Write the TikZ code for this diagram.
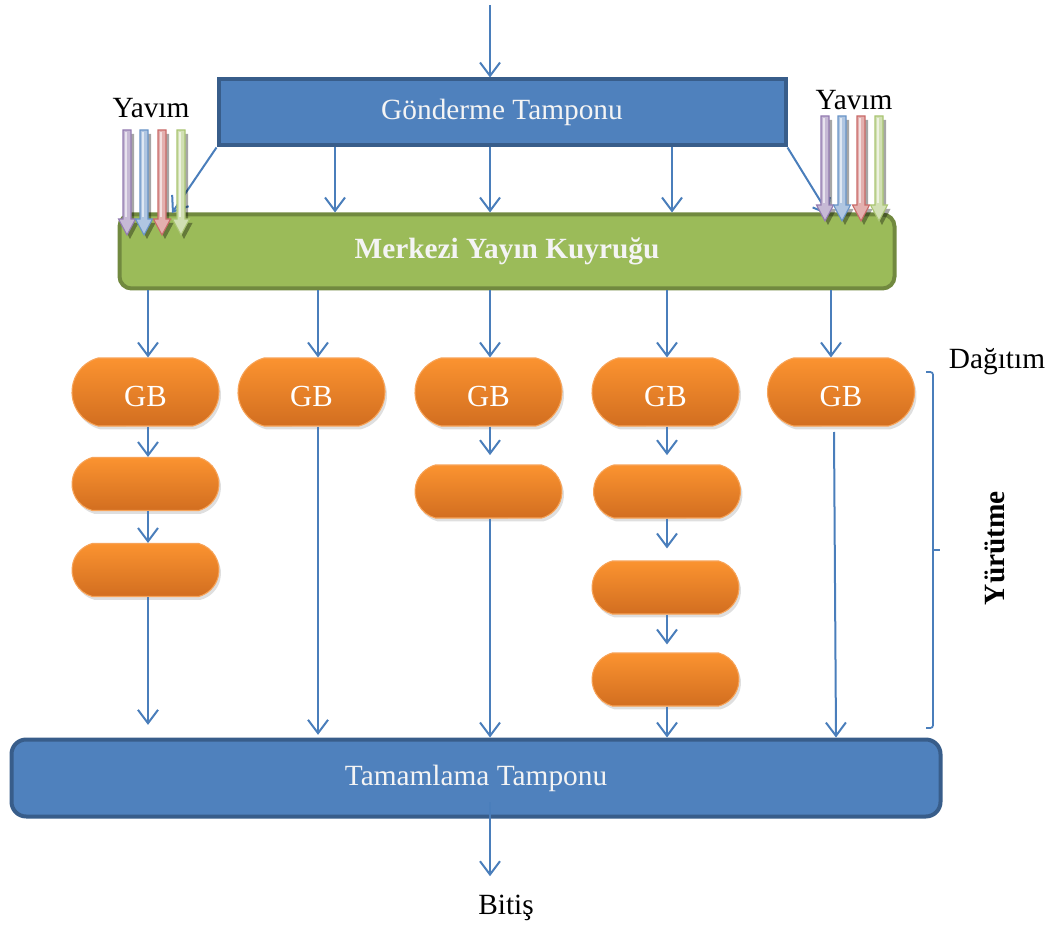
\documentclass[tikz,border=0pt]{standalone}
\usepackage{fontspec}
\setmainfont{Liberation Serif}
\usetikzlibrary{arrows.meta,shadows,calc,shapes.misc}
\definecolor{bfill}{HTML}{4F81BD}
\definecolor{bline}{HTML}{385D8A}
\definecolor{abl}{HTML}{4A7EBB}
\definecolor{gfill}{HTML}{9BBB59}
\definecolor{gline}{HTML}{71893F}
\definecolor{otop}{HTML}{FB9330}
\definecolor{obot}{HTML}{D26E20}
\definecolor{oline}{HTML}{F7A358}
\definecolor{ypur}{HTML}{8064A2}
\definecolor{yblu}{HTML}{4F81BD}
\definecolor{yred}{HTML}{C0504D}
\definecolor{ygrn}{HTML}{9BBB59}
\definecolor{txtw}{HTML}{F4F4F4}
% color, x, ytop, ybottom(tip)
\newcommand\yavarrow[4]{%
  \fill[black,opacity=.35] (#2-4+3,#3+4) -- (#2+4+3,#3+4) -- (#2+4+3,#4-16+4) -- (#2+8.5+3,#4-16+4) -- (#2+3,#4+4) -- (#2-8.5+3,#4-16+4) -- (#2-4+3,#4-16+4) -- cycle;
  \filldraw[fill=#1!45, draw=#1!85, line width=.8pt] (#2-4,#3) -- (#2+4,#3) -- (#2+4,#4-16) -- (#2+8.5,#4-16) -- (#2,#4) -- (#2-8.5,#4-16) -- (#2-4,#4-16) -- cycle;
  \draw[white,opacity=.6,line width=1.2pt] (#2-0.8,#3+2) -- (#2-0.8,#4-18);
}
\newcommand\gbtext{\raisebox{-3.5pt}[\height][\depth]{GB}}
\tikzset{
  txt/.style={font=\fontsize{22pt}{24pt}\selectfont, inner sep=0pt},
  bbox/.style={txt, text=txtw, fill=bfill, draw=bline, line width=3pt},
  gbox/.style={fill=gfill, draw=gline, line width=3pt, rounded corners=9pt,
    font=\fontsize{22pt}{24pt}\selectfont\bfseries, text=txtw, inner sep=0pt},
  pill/.style={txt, text=white, rounded rectangle, rounded rectangle arc length=150,
    top color=otop, bottom color=obot, draw=oline, line width=.8pt,
    minimum width=147*0.75pt,
    drop shadow={shadow xshift=1.5pt, shadow yshift=-2.5pt, opacity=.25}},
  gbnode/.style={pill, minimum height=68*0.75pt, font=\fontsize{23pt}{25pt}\selectfont},
  obnode/.style={pill, minimum height=53*0.75pt},
  arr/.style={draw=abl, line width=1.5pt, -{Straight Barb[length=10pt,width=15pt]}},
}
\begin{document}
\begin{tikzpicture}[x=0.75pt,y=-0.75pt]
\useasboundingbox (0,0) rectangle (1060,927);

% main boxes
\node[bbox, minimum width=567*0.75pt, minimum height=66*0.75pt] (gon) at (502,112.5) {Gönderme Tamponu};
\node[gbox, minimum width=775*0.75pt, minimum height=74*0.75pt] (mer) at (507,251.5) {Merkezi Yayın Kuyruğu};
\node[bbox, rounded corners=11pt, minimum width=929*0.75pt, minimum height=77*0.75pt] (tam) at (476,778) {Tamamlama Tamponu};

% GB row
\node[gbnode] (g1) at (145.5,392) {\gbtext};
\node[gbnode] (g2) at (311.5,392) {\gbtext};
\node[gbnode] (g3) at (488.5,392) {\gbtext};
\node[gbnode] (g4) at (665.5,392) {\gbtext};
\node[gbnode] (g5) at (841,392) {\gbtext};

% further steps
\node[obnode] (b12) at (145.5,484) {};
\node[obnode] (b13) at (145.5,570) {};
\node[obnode] (b32) at (488.5,491.5) {};
\node[obnode] (b42) at (667,491.5) {};
\node[obnode] (b43) at (665.5,587.5) {};
\node[obnode] (b44) at (665.5,679.5) {};

% labels
\node[txt] (yl) at (151,108) {Yavım};
\node[txt] (yr) at (854,100) {Yavım};
\node[txt] (dag) at (997,362) {Dağıtım};
\node[txt, font=\fontsize{22pt}{24pt}\selectfont\bfseries, rotate=90] (yur) at (995,548) {Yürütme};
\node[txt] (bit) at (506,908) {Bitiş};

% input arrow
\coordinate (in) at (490,5);
\draw[arr] (in) -- (in |- gon.north);

% Gonderme -> Merkezi
\coordinate (c1) at (335,0);
\coordinate (c2) at (490,0);
\coordinate (c3) at (672,0);
\foreach \c in {c1,c2,c3} \draw[arr] (\c |- gon.south) -- (\c |- mer.north);
\coordinate (dl) at (172,213);
\coordinate (dr) at (829,215);
\draw[arr] (gon.south west) -- (dl);
\draw[arr] (gon.south east) -- (dr);

% Yavim arrows
\yavarrow{ypur}{127}{130}{235}
\yavarrow{yblu}{144}{130}{235}
\yavarrow{yred}{162}{130}{235}
\yavarrow{ygrn}{181}{130}{235}
\yavarrow{ypur}{825}{116}{221}
\yavarrow{yblu}{842}{116}{221}
\yavarrow{yred}{861}{116}{221}
\yavarrow{ygrn}{879}{116}{221}

% Merkezi -> GB
\coordinate (d1) at (148,0);
\coordinate (d2) at (318,0);
\coordinate (d3) at (490,0);
\coordinate (d4) at (667,0);
\coordinate (d5) at (831,0);
\draw[arr] (d1 |- mer.south) -- (d1 |- g1.north);
\draw[arr] (d2 |- mer.south) -- (d2 |- g2.north);
\draw[arr] (d3 |- mer.south) -- (d3 |- g3.north);
\draw[arr] (d4 |- mer.south) -- (d4 |- g4.north);
\draw[arr] (d5 |- mer.south) -- (d5 |- g5.north);

% column 1
\draw[arr] (d1 |- g1.south) -- (d1 |- b12.north);
\draw[arr] (d1 |- b12.south) -- (d1 |- b13.north);
\draw[arr, shorten >=9.5pt] (d1 |- b13.south) -- (d1 |- tam.north);
% column 2
\draw[arr, shorten >=2pt] (d2 |- g2.south) -- (d2 |- tam.north);
% column 3
\draw[arr, shorten >=7pt] (d3 |- g3.south) -- (d3 |- b32.north);
\draw[arr] (d3 |- b32.south) -- (d3 |- tam.north);
% column 4
\draw[arr, shorten >=7pt] (d4 |- g4.south) -- (d4 |- b42.north);
\draw[arr, shorten >=9pt] (d4 |- b42.south) -- (d4 |- b43.north);
\draw[arr, shorten >=6pt] (d4 |- b43.south) -- (d4 |- b44.north);
\draw[arr] (d4 |- b44.south) -- (d4 |- tam.north);
% column 5
\coordinate (e5) at (834,432);
\coordinate (f5) at (836,0);
\draw[arr] (e5) -- (f5 |- tam.north);

% Tamamlama -> Bitis
\coordinate (t0) at (490,802);
\draw[arr, shorten >=14pt] (t0) -- (t0 |- bit.north);

% brace
\draw[abl, line width=1.3pt, rounded corners=2pt] (926,372) -- (933,372) -- (933,728) -- (926,728);
\draw[abl, line width=1.3pt] (933,550) -- (940,550);
\end{tikzpicture}
\end{document}
